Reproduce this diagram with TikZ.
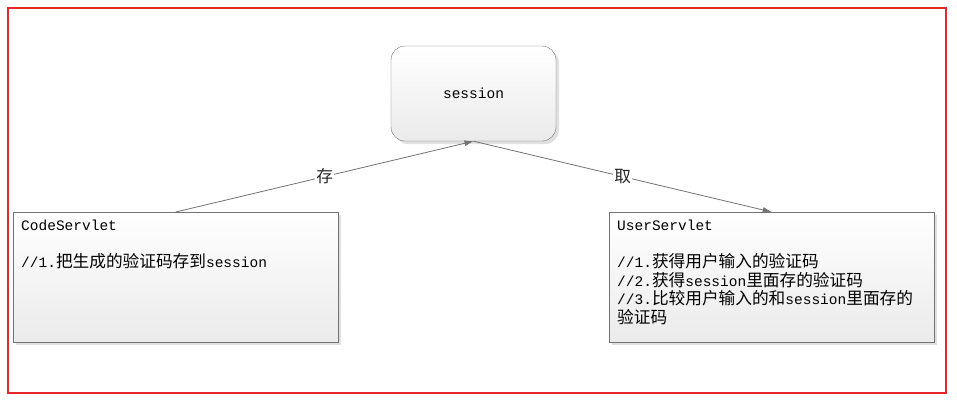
\documentclass[tikz,border=0pt]{standalone}
\usepackage{fontspec}
\setmonofont{Liberation Mono}
\newfontfamily\cjk[Scale=1.15]{Noto Sans CJK SC}
\usetikzlibrary{positioning, arrows.meta, shadows}
\definecolor{framered}{HTML}{E5262B}
\tikzset{
x=1pt, y=-1pt, % one unit is one pixel of the sketch
every node/.style={font=\ttfamily\fontsize{14.5}{18.5}\selectfont},
box/.style={draw=gray!90!black, top color=white, bottom color=black!8,
  drop shadow={shadow xshift=3pt, shadow yshift=-3pt, fill=black!12, opacity=1}}, % boxes with soft shade
servlet/.style={box, anchor=north west, minimum width=325pt, minimum height=130pt},
boxtext/.style={anchor=north west, align=left, inner sep=0pt},
flow/.style={draw=gray!90!black, line width=0.8pt, -{Latex[length=9pt,width=6pt]}}, % the arrows
tag/.style={midway, fill=white, inner sep=1pt, text=black!85},
}

\begin{document}
\begin{tikzpicture}
\useasboundingbox (0,0) rectangle (957,404);
\draw[framered, line width=1.3pt] (8,8) rectangle (946,393);

\node[box, rounded corners=14pt, minimum width=165pt, minimum height=95pt] (session) at (473.5,93.5) {session};
\node[servlet] (code) at (13,212) {};
\node[servlet] (user) at (609,212) {};

\node[boxtext] (codetxt) at ([shift={(8,8)}]code.north west)
  {CodeServlet\\[18.5pt]//1.{\cjk 把生成的验证码存到}session};
\node[boxtext] (usertxt) at ([shift={(8,8)}]user.north west)
  {UserServlet\\[18.5pt]//1.{\cjk 获得用户输入的验证码}\\//2.{\cjk 获得}session{\cjk 里面存的验证码}\\//3.{\cjk 比较用户输入的和}session{\cjk 里面存的}\\{\cjk 验证码}};

\draw[flow] (code.north) -- node[tag] {\cjk 存} (session.south);
\draw[flow] (session.south) -- node[tag] {\cjk 取} (user.north);
\end{tikzpicture}
\end{document}
